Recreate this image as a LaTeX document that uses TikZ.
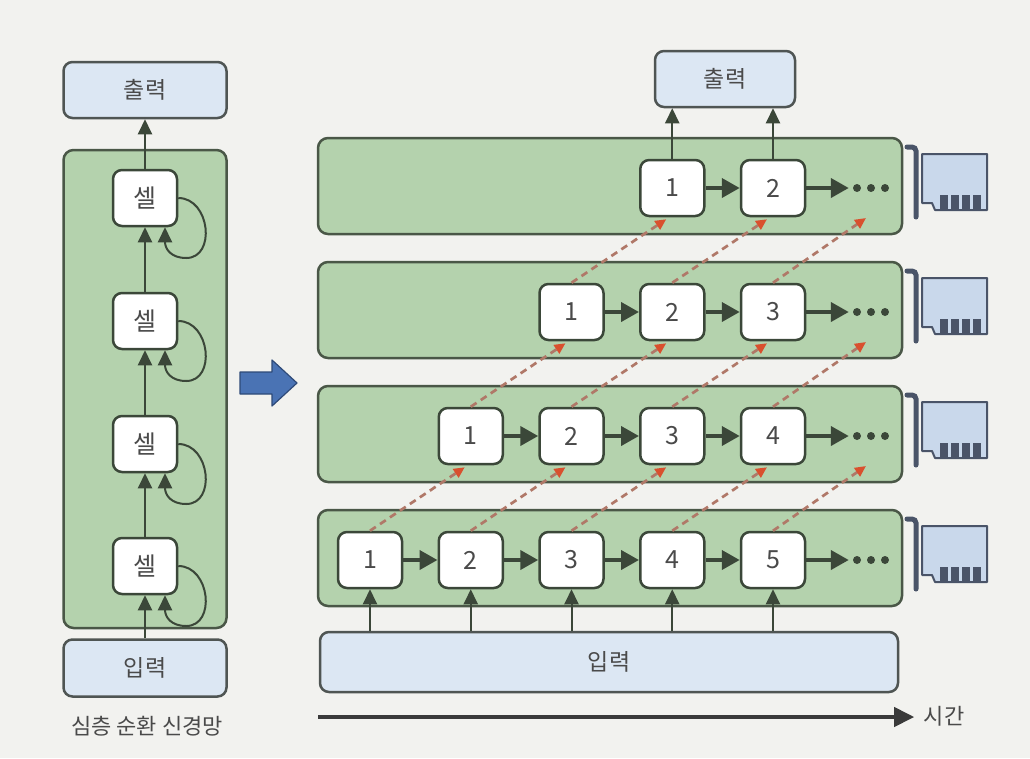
\documentclass[tikz,border=0pt]{standalone}
\usepackage{fontspec}
\setmainfont{Noto Sans CJK KR}
\usetikzlibrary{arrows.meta,calc}
\definecolor{paper}{HTML}{F2F2EF}
\definecolor{greenfill}{HTML}{B4D2AD}
\definecolor{greenline}{HTML}{4A5747}
\definecolor{bluefill}{HTML}{DCE7F3}
\definecolor{boxline}{HTML}{4F5553}
\definecolor{darkarrow}{HTML}{3B4739}
\definecolor{textgrey}{HTML}{4A4A4A}
\definecolor{dashcol}{HTML}{B07868}
\definecolor{tipred}{HTML}{D9502E}
\definecolor{bigblue}{HTML}{4A73B4}
\definecolor{bigblueline}{HTML}{2E4A78}
\definecolor{cardfill}{HTML}{C9D8EB}
\definecolor{cardline}{HTML}{4A5468}
\definecolor{timeline}{HTML}{3A3A3A}
\begin{document}
\begin{tikzpicture}[x=1pt,y=-1pt,
  panel/.style={draw=greenline, fill=greenfill, line width=2.5pt, rounded corners=10pt, inner sep=0pt},
  iobox/.style={draw=boxline, fill=bluefill, line width=2.5pt, rounded corners=9pt, inner sep=0pt, text=textgrey, font=\fontsize{23}{26}\selectfont},
  cell/.style={draw=darkarrow, fill=white, line width=2.5pt, rounded corners=9pt, minimum width=64pt, minimum height=56pt, inner sep=0pt, text=textgrey, font=\fontsize{25}{28}\selectfont},
  lbl/.style={text=textgrey, font=\fontsize{22}{25}\selectfont},
  varr/.style={draw=darkarrow, line width=2pt, -{Triangle[length=15pt,width=14pt]}},
  harr/.style={draw=darkarrow, line width=4pt, -{Triangle[length=18pt,width=19pt]}},
  darr/.style={draw=dashcol, line width=2.7pt, dash pattern=on 7pt off 5pt, -{Triangle[length=11pt,width=10pt,color=tipred]}},
  tarr/.style={draw=timeline, line width=4pt, -{Triangle[length=20pt,width=19pt]}},
  dotsnode/.style={minimum width=44pt, minimum height=10pt, inner sep=0pt}
]
\fill[paper] (0,0) rectangle (1030,758);
\useasboundingbox (0,0) rectangle (1030,758);

% ---------------- left column ----------------
\node[iobox, minimum width=163pt, minimum height=56pt] (outL) at (145,90) {출력};
\node[panel, minimum width=163pt, minimum height=478pt] (colL) at (145,389) {};
\node[iobox, minimum width=163pt, minimum height=57pt] (inL) at (145,668) {입력};
\node[lbl] (capL) at (147,726) {심층 순환 신경망};
\foreach \i/\yy in {1/198, 2/321, 3/444, 4/566}{
  \node[cell] (s\i) at (145,\yy) {셀};
  \draw[varr] (s\i.east) .. controls ($(s\i.east)+(32,0)$) and ($(s\i.east)+(38,60)$) .. ($(s\i.east)+(8,60)$)
     .. controls ($(s\i.east)+(-7,60)$) and ($(s\i.south)+(20,22)$) .. ($(s\i.south)+(20,0)$);
}
\draw[varr] (s1.north) -- (outL.south);
\draw[varr] (s2.north) -- (s1.south);
\draw[varr] (s3.north) -- (s2.south);
\draw[varr] (s4.north) -- (s3.south);
\draw[varr] (inL.north) -- (s4.south);

% ---------------- big blue arrow ----------------
\fill[bigblue, draw=bigblueline, line width=1.2pt, line join=round]
  (240,372) -- (272,372) -- (272,360) -- (297,383) -- (272,406) -- (272,394) -- (240,394) -- cycle;

% ---------------- right side ----------------
\node[iobox, minimum width=140pt, minimum height=56pt] (outR) at (725,79) {출력};
\node[iobox, minimum width=578pt, minimum height=60pt] (inR) at (609,662) {입력};

\foreach \L/\y in {1/558, 2/434, 3/310, 4/186}{
  \node[panel, minimum width=584pt, minimum height=96pt] (P\L) at (610,\y) {};
  % GPU card
  \pgfmathsetmacro\yo{\y-4}
  \draw[cardline, line width=5pt, line cap=round, rounded corners=4pt] (907,\yo-35) -- (916,\yo-35) -- (916,\yo+35);
  \draw[fill=cardfill, draw=cardline, line width=2pt, line join=round]
    (922,\yo-28) -- (987,\yo-28) -- (987,\yo+28) -- (935,\yo+28) -- (932,\yo+21) -- (922,\yo+21) -- cycle;
  \foreach \px in {940,951,962,973}
    \fill[cardline] (\px,\yo+13) rectangle (\px+8,\yo+28);
}

\foreach \L/\y in {1/560, 2/436, 3/312, 4/188}{
  \foreach \c in {\L,...,5}{
    \pgfmathsetmacro\cx{370+100.75*(\c-1)}
    \pgfmathtruncatemacro\lab{\c-\L+1}
    \node[cell] (r\L\c) at (\cx,\y) {\lab};
    \coordinate (t\L\c) at ([xshift=-6pt,yshift=-2pt]r\L\c.south);
  }
  \coordinate (t\L6) at (866,\y+30);
  \node[dotsnode] (dots\L) at (871,\y) {};
  \foreach \dx in {-14,0,14}
    \fill[darkarrow] ([xshift=\dx pt]dots\L.center) circle (4pt);
  \ifnum\L<4
  \foreach \c in {\L,...,4}{
    \pgfmathtruncatemacro\n{\c+1}
    \draw[harr] (r\L\c.east) -- (r\L\n.west);
  }
  \fi
  \ifnum\L=4
    \draw[harr] (r44.east) -- (r45.west);
  \fi
  \draw[harr] (r\L5.east) -- (dots\L.west);
}

% dashed carry-over arrows
\foreach \L in {1,2,3}{
  \pgfmathtruncatemacro\Lp{\L+1}
  \foreach \c in {\L,...,5}{
    \pgfmathtruncatemacro\cp{\c+1}
    \draw[darr] (r\L\c.north) -- (t\Lp\cp);
  }
}

% inputs and outputs
\foreach \c in {1,...,5}
  \draw[varr] (r1\c.south |- inR.north) -- (r1\c.south);
\foreach \c in {4,5}
  \draw[varr] (r4\c.north) -- (r4\c.north |- outR.south);

% time axis
\node[lbl] (timeL) at (944,716) {시간};
\coordinate (tstart) at (318,717);
\draw[tarr] (tstart) -- ([xshift=-6pt]timeL.west |- tstart);
\end{tikzpicture}
\end{document}
